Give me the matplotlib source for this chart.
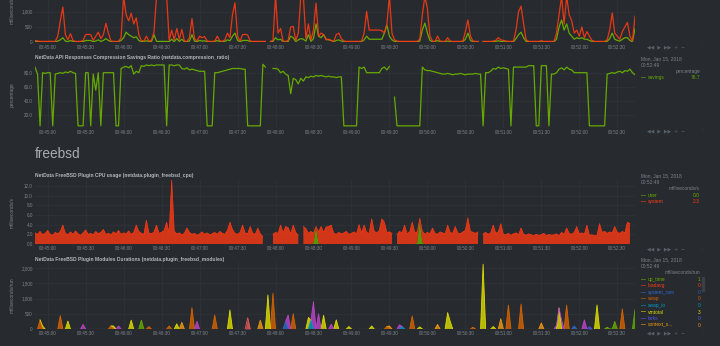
import numpy as np
import matplotlib.pyplot as plt
from matplotlib.patches import Rectangle
from matplotlib.ticker import FixedLocator, FuncFormatter

plt.rcParams['font.family'] = ['Liberation Sans', 'DejaVu Sans']

W, H = 720, 346
BG = '#272b30'
GRID = '#30353b'
TICK = '#7d838a'
TITLE = '#b4b8bc'
GREEN = '#66AA00'
RED = '#FE3912'

# one sample every 2 s, first sample at 00:44:50
step = 2
start = 44 * 60 + 50
nan = np.nan

# netdata.response_time (ms/request)
resp_max = [60, 40, 30, 30, 30, 30, 35, 30, 30, 200,
            700, 1150, 250, 80, 280, 60, 30, 30, 30, 60,
            250, 260, 250, 60, 200, 330, 120, 250, 620, 300,
            40, 30, 30, 30, 150, 1500, 900, 700, 950, 600,
            800, 250, 60, 40, 200, 40, 60, 330, 1500, 1500,
            1500, 1500, 1500, 60, 400, 80, 450, 100, 420, 40,
            30, 150, 770, 120, 40, 200, 150, 190, 40, 30,
            30, 40, 200, 50, 30, 80, 300, 150, 900, 1290,
            200, 40, 250, 260, 240, 40, 30, 30, 30, 30,
            30, 30, nan, 30, 60, 1500, 300, 450, 40, 30,
            60, 500, 520, 60, 300, 1500, 1500, 120, 600, 80,
            400, 1280, 200, 300, 250, 80, 100, 60, 30, 250,
            300, 120, 40, 30, 30, 30, 30, 30, 30, 40,
            300, 1010, 400, 400, 400, 400, 400, 380, 300, 600,
            1500, 300, 80, 40, 30, 30, 30, 30, 30, 30,
            30, 30, 100, 900, 1500, 1100, 200, 40, 30, 200,
            40, 30, 30, 150, 40, 30, 30, 30, 30, 40,
            350, 730, 200, 40, 30, 30, nan, 30, 30, 30,
            30, 40, 60, 150, 80, 60, 40, 30, 30, 40,
            400, 1000, 1180, 600, 80, 30, 30, 30, 30, 30,
            50, 30, 30, 30, 30, 30, 300, 900, 1500, 600,
            1500, 900, 700, 300, 400, 200, 500, 150, 350, 200,
            60, 30, 30, 30, 30, 30, 80, 400, 960, 300,
            200, 100, 350, 500, 650, 200, 40, 850]
resp_avg = [30, 25, 20, 20, 20, 20, 20, 20, 20, 40,
            80, 150, 40, 20, 60, 20, 20, 20, 20, 20,
            60, 60, 60, 20, 40, 80, 30, 60, 120, 60,
            20, 20, 20, 20, 60, 150, 330, 250, 200, 150,
            180, 60, 20, 20, 50, 20, 20, 250, 30, 30,
            30, 30, 30, 20, 100, 20, 120, 30, 100, 20,
            20, 40, 250, 40, 20, 60, 40, 50, 20, 20,
            20, 20, 60, 20, 20, 30, 80, 50, 200, 300,
            60, 20, 60, 60, 60, 20, 20, 20, 20, 20,
            20, 20, nan, 20, 30, 150, 80, 100, 20, 20,
            30, 200, 150, 20, 80, 120, 100, 40, 250, 30,
            120, 600, 200, 150, 250, 100, 80, 60, 20, 60,
            80, 40, 20, 20, 20, 20, 20, 20, 20, 20,
            80, 200, 100, 100, 100, 100, 100, 100, 300, 560,
            200, 80, 30, 20, 20, 20, 20, 20, 20, 20,
            20, 20, 40, 400, 630, 300, 60, 20, 20, 60,
            20, 20, 20, 40, 20, 20, 20, 20, 20, 20,
            100, 300, 60, 20, 20, 20, nan, 20, 20, 20,
            20, 20, 30, 50, 30, 20, 20, 20, 20, 20,
            120, 250, 330, 150, 30, 20, 20, 20, 20, 20,
            20, 20, 20, 20, 20, 20, 100, 500, 730, 400,
            600, 300, 200, 100, 150, 120, 150, 100, 100, 60,
            30, 20, 20, 20, 20, 20, 30, 120, 300, 100,
            60, 40, 100, 150, 150, 60, 20, 450]

# netdata.compression_ratio (percentage)
savings = [88, 78, 4, 80, 79, 80, 80, 4, 78, 79,
           80, 79, 81, 80, 82, 80, 79, 4, 4, 4,
           80, 80, 4, 78, 55, 80, 4, 80, 80, 80,
           80, 80, 4, 4, 86, 88, 89, 87, 90, 78,
           82, 80, 90, 89, 91, 90, 91, 90, 91, 91,
           91, 91, 4, 91, 91, 90, 91, 91, 86, 85,
           87, 84, 85, 84, 83, 82, 82, 82, 4, 4,
           4, 80, 80, 81, 82, 83, 84, 85, 86, 86,
           86, 86, 85, 85, 4, 4, 4, 4, 4, 4,
           92, 88, nan, nan, 86, 86, 85, 80, 82, 78,
           76, 50, 72, 70, 64, 72, 68, 74, 73, 75,
           74, 76, 75, 76, 75, 74, 75, 74, 74, 73,
           74, 74, 4, 4, 4, 4, 4, 4, 88, 86,
           88, 80, 80, 80, 80, 80, 80, 86, 88, 84,
           89, nan, 45, 4, 4, 4, 4, 4, 4, 4,
           4, 4, 4, 88, 84, 83, 83, 82, 81, 80,
           79, 78, 78, 79, 78, 77, 78, 78, 79, 78,
           77, 78, 78, 78, 79, 78, 78, 4, 80, 80,
           82, 86, 85, 88, 86, 87, 86, 85, 4, 88,
           88, 88, 88, 88, 88, 90, 90, 90, 4, 4,
           90, 90, 90, 4, 78, 78, 80, 85, 87, 84,
           88, 85, 84, 80, 80, 80, 80, 80, 80, 4,
           4, 4, 4, 4, 4, 4, 78, 79, 80, 79,
           81, 82, 80, 83, 82, 85, 80, 77]

# netdata.plugin_freebsd_cpu (milliseconds/s)
cpu_system = [2.3, 2.0, 2.6, 1.9, 2.2, 2.8, 2.0, 1.8, 2.4, 2.1, 2.6, 3.9,
              2.2, 1.9, 2.5, 2.0, 2.7, 2.1, 1.8, 2.3, 2.9, 2.0, 2.2, 1.9,
              2.6, 2.1, 2.4, 3.0, 2.0, 2.2, 1.9, 2.5, 2.1, 2.8, 2.0, 2.3,
              2.1, 2.7, 2.0, 2.4, 3.9, 2.6, 2.2, 2.0, 4.9, 2.3, 2.1, 2.5,
              3.9, 2.2, 2.4, 2.8, 4.5, 2.3, 13.2, 2.6, 2.1, 2.3, 1.9, 2.2,
              3.3, 2.4, 2.0, 2.2, 1.8, 2.1, 2.5, 2.0, 2.3, 1.9, 2.1, 2.4,
              2.0, 2.6, 2.2, 2.0, 2.8, 4.5, 3.0, 2.2, 2.0, 2.4, 3.9, 2.3,
              2.1, 3.6, 2.2, 2.0, 3.3, 2.1, 1.5, nan, 1.2, nan, 2.0, 2.4,
              2.2, 3.9, 2.3, 3.6, 3.4, 2.1, 3.9, 2.4, 1.8, nan, 3.6, 3.2,
              2.2, 2.6, 2.0, 0.1, 2.3, 3.6, 2.4, 3.5, 3.6, 3.9, 2.2, 2.0,
              2.4, 2.1, 2.3, 2.6, 2.0, 2.2, 2.5, 2.1, 4.0, 2.3, 3.9, 2.4,
              2.2, 5.2, 2.6, 2.3, 2.8, 5.2, 4.5, 2.4, 2.5, 2.2, nan, 2.0,
              2.6, 2.3, 3.9, 2.1, 2.5, 4.5, 2.4, 2.2, 0.3, 2.3, 2.0, 2.4,
              2.1, 3.3, 2.2, 2.0, 2.5, 2.3, 2.1, 3.9, 2.4, 2.2, 3.6, 2.3,
              2.1, 2.5, 2.8, 5.4, 2.6, 2.4, 2.2, 2.5, nan, 2.1, 2.4, 2.0,
              2.3, 3.9, 2.2, 2.5, 4.2, 2.0, 1.9, 2.2, 1.8, 2.1, 2.3, 1.9,
              3.3, 2.0, 1.8, 2.1, 1.9, 1.7, 2.0, 1.8, 1.9, 2.2, 1.7, 2.0,
              1.8, 1.9, 2.1, 1.7, 2.4, 2.0, 3.3, 2.2, 2.0, 2.4, 3.6, 2.1,
              2.3, 2.0, 3.9, 1.8, 1.9, 1.7, 1.8, 4.2, 2.4, 2.6, 2.2, 2.5,
              2.3, 3.6, 2.4, 2.2, 2.6, 2.3, 4.5, 4.2, nan, 1.8]
user_idx = [110, 111, 112, 151, 152, 153]
user_val = [0.2, 3.5, 0.2, 0.3, 5.0, 0.3]

# netdata.plugin_freebsd_modules (milliseconds/run), stacked
modules = ['up_time', 'loadavg', 'system_ram', 'swap', 'swap_io', 'vmtotal',
           'forks', 'context_switches', 'interrupts', 'soft_interrupts']
module_colors = ['#66AA00', '#FE3912', '#3366CC', '#D66300', '#0099C6',
                 '#DDDD00', '#5054e6', '#EE9911', '#BB44CC', '#e45757']
module_last = [1, 0, 0, 0, 0, 3, 0, 0]
spike_idx = [2, 3, 10, 13, 19, 30, 31, 33, 38, 42, 45, 53, 56, 58, 62, 64,
             71, 77, 84, 89, 92, 94, 99, 100, 102, 108, 109, 110, 112, 114,
             117, 119, 124, 133, 139, 140, 144, 145, 149, 152, 159, 163, 164,
             173, 177, 181, 184, 187, 192, 200, 206, 207, 208, 210, 213, 217,
             219, 222, 226, 229, 232, 237]
spike_mod = ['swap', 'vmtotal', 'swap', 'vmtotal', 'interrupts', 'swap',
             'vmtotal', 'interrupts', 'vmtotal', 'up_time', 'swap', 'swap',
             'vmtotal', 'context_switches', 'swap', 'interrupts', 'swap',
             'vmtotal', 'soft_interrupts', 'context_switches', 'vmtotal',
             'swap', 'system_ram', 'interrupts', 'swap', 'vmtotal', 'swap_io',
             'interrupts', 'interrupts', 'vmtotal', 'interrupts', 'vmtotal',
             'vmtotal', 'vmtotal', 'swap', 'context_switches', 'interrupts',
             'swap_io', 'swap', 'vmtotal', 'context_switches', 'vmtotal',
             'vmtotal', 'swap', 'vmtotal', 'vmtotal', 'context_switches',
             'swap', 'swap', 'context_switches', 'interrupts', 'vmtotal',
             'interrupts', 'swap', 'system_ram', 'interrupts', 'forks',
             'vmtotal', 'up_time', 'up_time', 'swap', 'up_time']
spike_val = [300, 100, 440, 260, 150, 100, 100, 100, 290, 290, 80, 100,
             170, 220, 700, 250, 460, 625, 370, 290, 1120, 1175, 250, 460,
             500, 380, 290, 900, 500, 450, 160, 300, 80, 100, 80, 100, 140,
             80, 430, 70, 150, 540, 250, 60, 2130, 80, 340, 790, 820, 200,
             120, 690, 300, 790, 100, 300, 80, 790, 60, 250, 660, 640]

t = np.arange(len(resp_max)) * step
tick_secs = list(range(10, 461, 30))


def clock(s, pos=None):
    s = int(round(s)) + start
    return '00:%02d:%02d' % (s // 60, s % 60)


fig = plt.figure(figsize=(W / 100, H / 100), dpi=100, facecolor=BG)


def ftext(x, y, s, **kw):
    kw.setdefault('va', 'center')
    kw.setdefault('fontsize', 3.5)
    kw.setdefault('color', TICK)
    fig.text(x / W, 1 - y / H, s, **kw)


def chart(top, bottom, ylim, yticks, yfmt):
    ax = fig.add_axes([35 / W, 1 - bottom / H, 600 / W, (bottom - top) / H])
    ax.set_facecolor(BG)
    ax.set_xlim(0, 474)
    ax.set_ylim(*ylim)
    for sp in ax.spines.values():
        sp.set_visible(False)
    ax.xaxis.set_major_locator(FixedLocator(tick_secs))
    ax.xaxis.set_major_formatter(FuncFormatter(clock))
    ax.yaxis.set_major_locator(FixedLocator(yticks))
    ax.yaxis.set_major_formatter(FuncFormatter(lambda v, p: yfmt.format(v)))
    ax.tick_params(length=0, labelsize=3.3, labelcolor=TICK, pad=1.6)
    ax.grid(True, color=GRID, lw=0.5)
    ax.set_axisbelow(True)
    return ax


def controls(y):
    ftext(647, y, '\u25c0\u25c0  \u25b6  \u25b6\u25b6  +  \u2212', fontsize=3.4,
          color='#59606a', family='DejaVu Sans')
    ftext(700, y, '\u22ee', fontsize=3.6, color='#40464d', family='DejaVu Sans')


def legend_head(y, unit):
    ftext(641, y, 'Mon, Jan 15, 2018')
    ftext(641, y + 6.8, '00:52:49')
    ftext(700, y + 12.8, unit, ha='right')


def legend_row(y, name, value, color):
    ftext(641, y, '\u2014', color=color, fontsize=3.5, fontweight='bold')
    ftext(648, y, name, color=color)
    ftext(700, y, value, color=color, ha='right')


# response time (its upper part lies above the page)
ax1 = chart(-38, 42.3, (0, 2624), [0, 500, 1000], '{:,.0f}')
ax1.plot(t, resp_avg, color=GREEN, lw=0.9)
ax1.plot(t, resp_max, color=RED, lw=0.9, alpha=0.9)
ftext(12, 2, 'milliseconds/request', rotation=90, ha='center')
controls(47)

# compression savings
ax2 = chart(62.2, 127.6, (1.5, 95), [20, 40, 60, 80], '{:.1f}')
ax2.plot(t, savings, color=GREEN, lw=0.9)
ftext(35, 57, 'NetData API Responses Compression Savings Ratio (netdata.compression_ratio)',
      fontsize=3.6, fontweight='bold', color=TITLE)
ftext(12, 95, 'percentage', rotation=90, ha='center')
legend_head(58.3, 'percentage')
legend_row(77.3, 'savings', '76.7', GREEN)
controls(131)

ftext(35, 154, 'freebsd', fontsize=9.8, color='#a9adb2')

# plugin cpu, user stacked under system
user = np.zeros(len(t))
user[user_idx] = user_val
system = np.array(cpu_system)
user[np.isnan(system)] = nan
ax3 = chart(179.5, 244, (0, 13.3), [0, 2, 4, 6, 8, 10, 12], '{:.1f}')
ax3.fill_between(t, 0, user, color=GREEN, alpha=0.85, lw=0)
ax3.fill_between(t, user, user + system, color=RED, alpha=0.8, lw=0)
ax3.plot(t, user + system, color=RED, lw=0.5)
ftext(35, 176, 'NetData FreeBSD Plugin CPU usage (netdata.plugin_freebsd_cpu)',
      fontsize=3.6, fontweight='bold', color=TITLE)
ftext(12, 212, 'milliseconds/s', rotation=90, ha='center')
legend_head(175.7, 'milliseconds/s')
legend_row(195.3, 'user', '0.0', GREEN)
legend_row(201.7, 'system', '2.3', RED)
controls(249)

# plugin modules, stacked areas
runs = np.zeros((len(modules), len(t)))
for i, m, v in zip(spike_idx, spike_mod, spike_val):
    runs[modules.index(m), i] = v
ax4 = chart(262.1, 329, (0, 2200), [0, 500, 1000, 1500, 2000], '{:,.0f}')
ax4.axhline(12, color='#7d5868', lw=0.8)
base = np.zeros(len(t))
for k, name in enumerate(modules):
    top = base + runs[k]
    busy = (runs[k] > 0) | (np.roll(runs[k], 1) > 0) | (np.roll(runs[k], -1) > 0)
    ax4.fill_between(t, base, top, where=busy, color=module_colors[k], alpha=0.8, lw=0)
    ax4.plot(t, np.where(busy, top, nan), color=module_colors[k], lw=0.6)
    base = top
ftext(35, 259, 'NetData FreeBSD Plugin Modules Durations (netdata.plugin_freebsd_modules)',
      fontsize=3.6, fontweight='bold', color=TITLE)
ftext(12, 295, 'milliseconds/run', rotation=90, ha='center')
legend_head(259.3, 'milliseconds/run')
for k, val in enumerate(module_last):
    name = modules[k] if len(modules[k]) <= 10 else modules[k][:9] + '...'
    legend_row(279.3 + k * 6.55, name, str(val), module_colors[k])
fig.patches.append(Rectangle((702 / W, 1 - 291 / H), 2 / W, 14 / H,
                             transform=fig.transFigure, color='#3b4047'))
controls(333)

fig.savefig('out.png', dpi=100, facecolor=BG)
